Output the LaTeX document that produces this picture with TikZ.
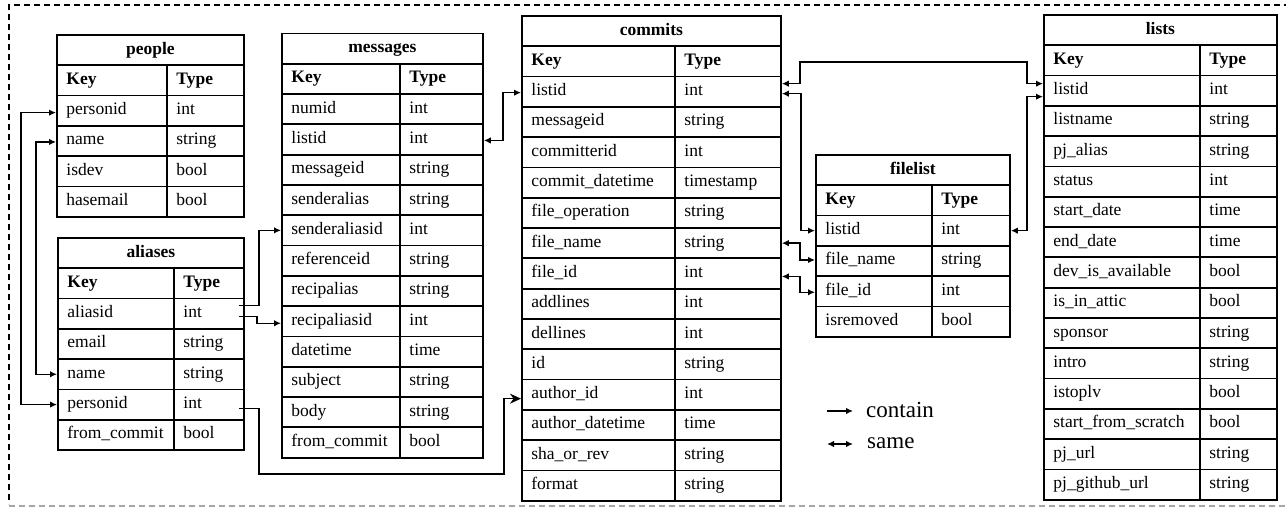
\documentclass[tikz,border=0pt]{standalone}
\usepackage{fontspec}
\setmainfont{Liberation Serif}
\usetikzlibrary{arrows.meta}
\newcommand\tabfont{\fontsize{17.5}{20}\selectfont}
\def\rh{30.3}
\tikzset{
  cellbox/.style={draw, line width=1.8pt, minimum height=\rh pt, inner xsep=9.5pt,
    inner ysep=0pt, align=left, anchor=north west, font=\tabfont},
  titlecell/.style={draw, line width=1.8pt, minimum height=\rh pt, inner sep=0pt,
    anchor=north west, font=\tabfont\bfseries},
  conn/.style={line width=1.4pt},
  containarrow/.style={conn, -{Latex[length=7pt,width=6.5pt]}},
  samearrow/.style={conn, {Latex[length=7pt,width=6.5pt]}-{Latex[length=7pt,width=6.5pt]}},
  bigarrow/.style={conn, -{Stealth[length=11pt,width=10pt]}},
  border/.style={line width=1.3pt, dash pattern=on 6pt off 4pt},
}
% #1 name, #2 left x, #3 divider x, #4 right x, #5 top y, #6 title, #7 rows
\newcommand\dbtab[7]{%
  \pgfmathsetmacro\dbKW{#3-#2-19}%
  \pgfmathsetmacro\dbTW{#4-#3-19}%
  \pgfmathsetmacro\dbFW{#4-#2}%
  \node[titlecell, minimum width=\dbFW pt] (#1-title) at (#2,#5) {\strut#6};
  \node[cellbox, text width=\dbKW pt, font=\tabfont\bfseries] (#1-khead) at (#2,{#5+\rh}) {\strut Key};
  \node[cellbox, text width=\dbTW pt, font=\tabfont\bfseries] (#1-thead) at (#3,{#5+\rh}) {\strut Type};
  \foreach \k/\t [count=\i] in {#7} {
    \node[cellbox, text width=\dbKW pt] (#1-k\i) at (#2,{#5+(\i+1)*\rh}) {\strut\k};
    \node[cellbox, text width=\dbTW pt] (#1-t\i) at (#3,{#5+(\i+1)*\rh}) {\strut\t};
  }%
}
\begin{document}
\begin{tikzpicture}[x=1pt,y=-1pt]
\useasboundingbox (0,0) rectangle (1286,507);
% border
\draw[border] (1290,5) -- (9,5) -- (9,504);
\draw[border, black!35] (9,506) -- (1290,506);

\dbtab{people}{56}{166}{243}{34}{people}{personid/int, name/string, isdev/bool, hasemail/bool}
\dbtab{aliases}{57}{173}{243}{237}{aliases}{aliasid/int, email/string, name/string, personid/int, from\_commit/bool}
\dbtab{messages}{281}{399}{482}{32.5}{messages}{numid/int, listid/int, messageid/string, senderalias/string, senderaliasid/int, referenceid/string, recipalias/string, recipaliasid/int, datetime/time, subject/string, body/string, from\_commit/bool}
\dbtab{commits}{521}{674}{780}{15}{commits}{listid/int, messageid/string, committerid/int, commit\_datetime/timestamp, file\_operation/string, file\_name/string, file\_id/int, addlines/int, dellines/int, id/string, author\_id/int, author\_datetime/time, sha\_or\_rev/string, format/string}
\dbtab{filelist}{815}{931}{1009}{154}{filelist}{listid/int, file\_name/string, file\_id/int, isremoved/bool}
\dbtab{lists}{1043}{1199}{1276}{14}{lists}{listid/int, listname/string, pj\_alias/string, status/int, start\_date/time, end\_date/time, dev\_is\_available/bool, is\_in\_attic/bool, sponsor/string, intro/string, istoplv/bool, start\_from\_scratch/bool, pj\_url/string, pj\_github\_url/string}

% connectors
\draw[samearrow] (aliases-k4.west) -- ++(-36,0) |- ([yshift=-2pt]people-k1.west);
\draw[samearrow] (aliases-k3.west) -- ++(-21,0) |- ([yshift=-1pt]people-k2.west);
\draw[containarrow] ([xshift=-6pt,yshift=8pt]aliases-t1.east) -- ++(20,0) |- (messages-k5.west);
\draw[containarrow] ([xshift=-6pt,yshift=-3pt]aliases-t1.east) -- ++(18,0) |- ([yshift=-2pt]messages-k8.west);
\coordinate (eL) at (504,474);
\draw[bigarrow] ([xshift=-6pt,yshift=-4pt]aliases-t4.east) -- ++(20,0) |- (eL) |- ([yshift=-4pt]commits-k11.west);
\draw[samearrow] ([yshift=-1pt]messages-t2.east) -- ++(19,0) |- ([yshift=-1pt]commits-k1.west);
\coordinate (cG) at (1027,62);
\draw[samearrow] ([yshift=8pt]commits-t1.east) -- ++(18,0) |- (cG) |- ([yshift=7pt]lists-k1.west);
\draw[samearrow] ([yshift=-2pt]commits-t1.east) -- ++(19,0) |- (filelist-k1.west);
\draw[samearrow] ([yshift=-6pt]lists-k1.west) -- ++(-16,0) |- (filelist-t1.east);
\draw[samearrow] (commits-t6.east) -- ++(18,0) |- ([yshift=1pt]filelist-k2.west);
\draw[samearrow] ([yshift=-3pt]commits-t7.east) -- ++(18,0) |- ([yshift=-1pt]filelist-k3.west);

% legend
\coordinate (lc1) at (827,411);
\coordinate (lc2) at (853,411);
\draw[containarrow] (lc1) -- (lc2);
\node[anchor=west, inner sep=0pt, font=\fontsize{23}{26}\selectfont] (lcontain) at (866,410) {contain};
\coordinate (ls1) at (827,444);
\coordinate (ls2) at (853,444);
\draw[samearrow] (ls1) -- (ls2);
\node[anchor=west, inner sep=0pt, font=\fontsize{23}{26}\selectfont] (lsame) at (867,443) {same};
\end{tikzpicture}
\end{document}
